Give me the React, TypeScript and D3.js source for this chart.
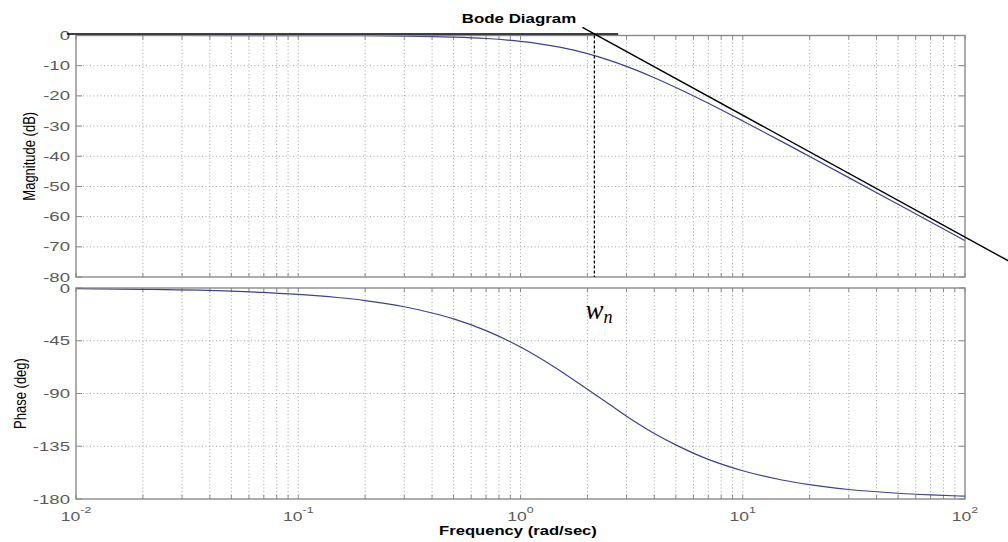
import React, { useRef, useEffect } from 'react'
import * as d3 from 'd3'

// frequencies (rad/sec)
const freqs = [0.01, 0.02, 0.05, 0.1, 0.15, 0.2, 0.3, 0.4, 0.5, 0.7, 1, 1.2, 1.5, 2, 2.5, 3, 4, 5, 7, 10, 15, 20, 30, 50, 70, 100]
const magnitudeDb = [0, 0, -0.01, -0.02, -0.05, -0.09, -0.19, -0.34, -0.53, -1.0, -1.94, -2.67, -3.88, -6.02, -8.17, -10.24, -13.98, -17.21, -22.44, -28.3, -35.15, -40.09, -47.08, -55.93, -61.77, -67.96]
const phaseDeg = [-0.5, -1.1, -2.7, -5.4, -8.1, -10.7, -16.0, -21.3, -26.4, -36.4, -50.3, -58.8, -70.3, -86.4, -99.0, -109.4, -124.1, -133.8, -146.2, -155.9, -163.8, -167.8, -171.9, -175.1, -176.5, -177.6]

// hand drawn asymptotes and natural frequency marker
const lowAsymW = [0.0091, 2.75]
const lowAsymDb = [0.5, 0.5]
const highAsymW = [1.9, 158]
const highAsymDb = [2.7, -74.8]
const wn = 2.15

const xExponents = [-2, -1, 0, 1, 2]
const magTicks = [0, -10, -20, -30, -40, -50, -60, -70, -80]
const phaseTicks = [0, -45, -90, -135, -180]

function App() {
    const svgRef = useRef(null)

    useEffect(() => {
        const width = 1008
        const height = 542
        const left = 76
        const right = 965

        const svg = d3.select(svgRef.current)
            .attr('width', width)
            .attr('height', height)
        svg.selectAll('*').remove()
        svg.append('rect').attr('width', width).attr('height', height).attr('fill', '#fff')

        const x = d3.scaleLog().domain([0.01, 100]).range([left, right])
        const yMag = d3.scaleLinear().domain([-80, 0]).range([277, 35.5])
        const yPh = d3.scaleLinear().domain([-180, 0]).range([499, 288])

        const font = 'Liberation Sans, Arial, Helvetica, sans-serif'
        const tickColor = '#5a5a5a'
        const gridColor = '#a4a4a4'
        const boxColor = '#8a8a8a'

        function label(g, px, py, txt, size, sx, anchor, weight, fill, rot) {
            return g.append('text')
                .attr('transform', `translate(${px},${py}) scale(${sx},1)` + (rot ? ` rotate(${rot})` : ''))
                .attr('text-anchor', anchor)
                .attr('font-family', font)
                .attr('font-size', size)
                .attr('font-weight', weight)
                .attr('fill', fill)
                .text(txt)
        }

        function panel(y, ticks, ylabel, labelX, values) {
            const g = svg.append('g')
            const [y0, y1] = y.range()
            const xt = x.ticks()

            // grid
            g.append('g').selectAll('line').data(xt.filter(t => t > 0.0101 && t < 99)).join('line')
                .attr('x1', d => x(d)).attr('x2', d => x(d))
                .attr('y1', y1).attr('y2', y0)
                .attr('stroke', gridColor).attr('stroke-width', 1)
                .attr('stroke-dasharray', '1,2.5')
            g.append('g').selectAll('line').data(ticks.slice(1, -1)).join('line')
                .attr('x1', left).attr('x2', right)
                .attr('y1', d => y(d)).attr('y2', d => y(d))
                .attr('stroke', gridColor).attr('stroke-width', 1)
                .attr('stroke-dasharray', '1,2.5')

            // tick marks
            g.append('g').selectAll('line').data(xt).join('line')
                .attr('x1', d => x(d)).attr('x2', d => x(d))
                .attr('y1', y0).attr('y2', y0 - 4)
                .attr('stroke', boxColor)
            g.append('g').selectAll('line').data(xt).join('line')
                .attr('x1', d => x(d)).attr('x2', d => x(d))
                .attr('y1', y1).attr('y2', y1 + 4)
                .attr('stroke', boxColor)
            g.append('g').selectAll('line').data(ticks).join('line')
                .attr('x1', right).attr('x2', right - 6)
                .attr('y1', d => y(d)).attr('y2', d => y(d))
                .attr('stroke', boxColor)
            g.append('g').selectAll('line').data(ticks).join('line')
                .attr('x1', left).attr('x2', left + 6)
                .attr('y1', d => y(d)).attr('y2', d => y(d))
                .attr('stroke', boxColor)

            // tick labels
            ticks.forEach(t => {
                label(g, 70, y(t) + 4.5, String(t), 12, 1.55, 'end', 'normal', tickColor, 0)
            })

            label(g, labelX, (y0 + y1) / 2, ylabel, 13, 1.3, 'middle', 'normal', '#000', -90)

            // curve
            const line = d3.line()
                .x((d, i) => x(freqs[i]))
                .y(d => y(d))
                .curve(d3.curveMonotoneX)
            g.append('path')
                .datum(values)
                .attr('d', line)
                .attr('fill', 'none')
                .attr('stroke', '#3f3f9c')
                .attr('stroke-width', 1.2)

            // box
            g.append('rect')
                .attr('x', left).attr('y', y1)
                .attr('width', right - left).attr('height', y0 - y1)
                .attr('fill', 'none')
                .attr('stroke', boxColor)
                .attr('stroke-width', 1.4)
            return g
        }

        panel(yMag, magTicks, 'Magnitude (dB)', 35, magnitudeDb)
        panel(yPh, phaseTicks, 'Phase (deg)', 26, phaseDeg)

        // x tick labels
        xExponents.forEach(e => {
            const t = svg.append('text')
                .attr('transform', `translate(${x(Math.pow(10, e))},521) scale(1.3,1)`)
                .attr('text-anchor', 'middle')
                .attr('font-family', font)
                .attr('font-size', 13.5)
                .attr('fill', tickColor)
            t.append('tspan').text('10')
            t.append('tspan').attr('dy', -8).attr('font-size', 9.5).text(String(e))
        })

        label(svg, 518, 535, 'Frequency  (rad/sec)', 12.5, 1.33, 'middle', 'bold', '#000', 0)
        label(svg, 519, 23, 'Bode Diagram', 13, 1.3, 'middle', 'bold', '#000', 0)

        // asymptotes
        const asym = d3.line()
            .x(d => x(d[0]))
            .y(d => yMag(d[1]))
        svg.append('path')
            .datum(d3.zip(lowAsymW, lowAsymDb))
            .attr('d', asym)
            .attr('fill', 'none').attr('stroke', '#000').attr('stroke-width', 1.4)
        svg.append('path')
            .datum(d3.zip(highAsymW, highAsymDb))
            .attr('d', asym)
            .attr('fill', 'none').attr('stroke', '#000').attr('stroke-width', 1.4)

        svg.append('line')
            .attr('x1', x(wn)).attr('x2', x(wn))
            .attr('y1', yMag(0)).attr('y2', yMag(-80))
            .attr('stroke', '#000').attr('stroke-width', 1.3)
            .attr('stroke-dasharray', '3,2')

        const wt = svg.append('text')
            .attr('x', x(wn) - 9).attr('y', 319)
            .attr('font-family', 'Liberation Serif, Times New Roman, serif')
            .attr('font-style', 'italic')
            .attr('font-size', 27)
            .attr('fill', '#000')
        wt.append('tspan').text('w')
        wt.append('tspan').attr('dy', 4).attr('font-size', 18).text('n')
    }, [])

    return (
        <div style={{ position: 'fixed', left: 0, top: 0 }}>
            <svg ref={svgRef}></svg>
        </div>
    )
}
export default App
